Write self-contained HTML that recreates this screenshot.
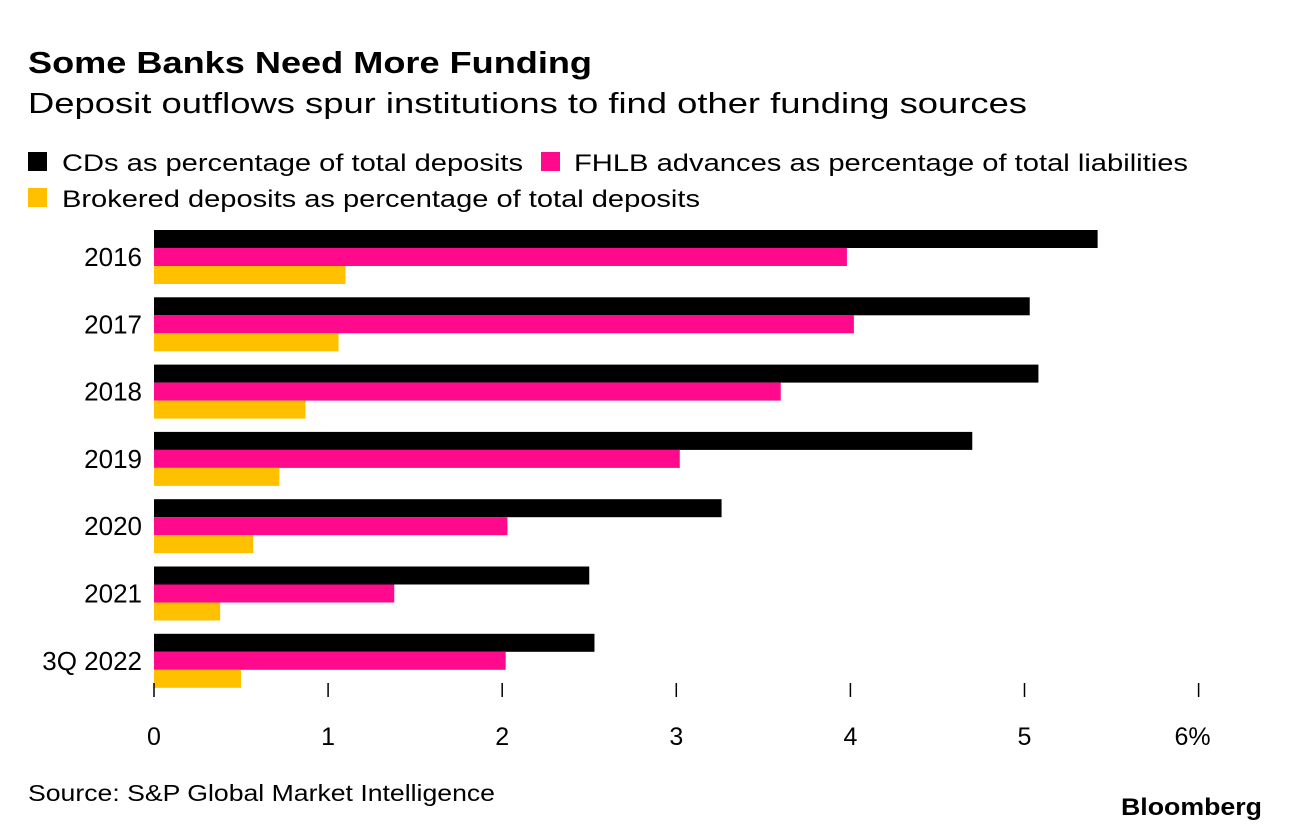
<!DOCTYPE html>
<html><head><meta charset="utf-8"><style>
body{margin:0;background:#fff;}
svg{display:block;font-family:"Liberation Sans",sans-serif;}
</style></head><body>
<svg id="chart" width="1289" height="832" viewBox="0 0 1289 832">
<text x="28" y="73" font-size="31" font-weight="bold" textLength="564" lengthAdjust="spacingAndGlyphs">Some Banks Need More Funding</text>
<text x="28" y="113" font-size="29" textLength="999" lengthAdjust="spacingAndGlyphs">Deposit outflows spur institutions to find other funding sources</text>
<g>
<rect x="28" y="152" width="19" height="19" fill="#000"/>
<text x="62" y="171" font-size="24" textLength="461" lengthAdjust="spacingAndGlyphs">CDs as percentage of total deposits</text>
<rect x="541" y="152" width="19" height="19" fill="#ff0a8c"/>
<text x="574" y="171" font-size="24" textLength="614" lengthAdjust="spacingAndGlyphs">FHLB advances as percentage of total liabilities</text>
<rect x="28" y="188" width="19" height="19" fill="#ffc000"/>
<text x="62" y="207" font-size="24" textLength="638" lengthAdjust="spacingAndGlyphs">Brokered deposits as percentage of total deposits</text>
</g>
<g id="bars"></g>
<g id="axis"></g>
<text x="28" y="801" font-size="23" textLength="467" lengthAdjust="spacingAndGlyphs">Source: S&amp;P Global Market Intelligence</text>
<text x="1262" y="815" font-size="24" font-weight="bold" text-anchor="end" textLength="141" lengthAdjust="spacingAndGlyphs">Bloomberg</text>
</svg>
<script>
const categories = ["2016","2017","2018","2019","2020","2021","3Q 2022"];
const cds = [5.42,5.03,5.08,4.70,3.26,2.50,2.53];
const fhlb = [3.98,4.02,3.60,3.02,2.03,1.38,2.02];
const brokered = [1.10,1.06,0.87,0.72,0.57,0.38,0.50];
const tickLabels = ["0","1","2","3","4","5","6%"];
const tickValues = [0,1,2,3,4,5,6];

const NS="http://www.w3.org/2000/svg";
const x0=154, unit=174.1;
const xs=v=>x0+v*unit;
const groupTop=i=>230+i*67.3;
const barH=18;
const series=[{vals:cds,color:"#000",name:"cds"},{vals:fhlb,color:"#ff0a8c",name:"fhlb"},{vals:brokered,color:"#ffc000",name:"brokered"}];
const bars=document.getElementById("bars");
categories.forEach((c,i)=>{
  const t=document.createElementNS(NS,"text");
  t.setAttribute("x",142);t.setAttribute("y",groupTop(i)+barH*1.5+9);
  t.setAttribute("font-size","26");t.setAttribute("text-anchor","end");
  t.textContent=c;
  
  
  bars.appendChild(t);
  series.forEach((s,j)=>{
    const r=document.createElementNS(NS,"rect");
    r.setAttribute("x",xs(0));r.setAttribute("y",groupTop(i)+j*barH);
    r.setAttribute("width",xs(s.vals[i])-xs(0));r.setAttribute("height",barH);
    r.setAttribute("fill",s.color);
    
    
    bars.appendChild(r);
  });
});
const axis=document.getElementById("axis");
tickValues.forEach((v,k)=>{
  const l=document.createElementNS(NS,"line");
  l.setAttribute("x1",xs(v));l.setAttribute("x2",xs(v));
  l.setAttribute("y1",683);l.setAttribute("y2",697);
  l.setAttribute("stroke","#000");l.setAttribute("stroke-width","1.5");
  
  
  axis.appendChild(l);
  const t=document.createElementNS(NS,"text");
  t.setAttribute("x",k===tickValues.length-1?xs(v)-6:xs(v));t.setAttribute("y",745);
  t.setAttribute("font-size","25");t.setAttribute("text-anchor","middle");
  t.textContent=tickLabels[k];
  
  
  axis.appendChild(t);
});
</script>
</body></html>
